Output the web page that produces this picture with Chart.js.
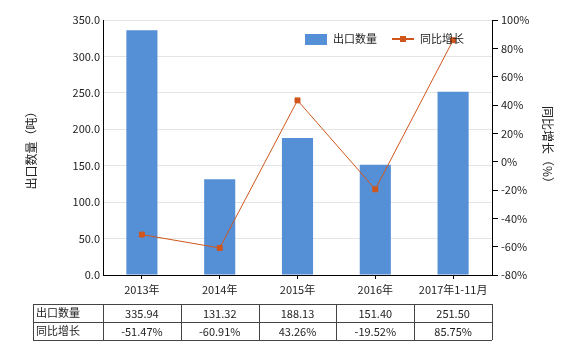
<!DOCTYPE html>
<html>
<head>
<meta charset="utf-8">
<script src="https://cdn.jsdelivr.net/npm/chart.js@4/dist/chart.umd.min.js"></script>
<style>
  html, body { margin: 0; padding: 0; background: #fff; }
  #wrap { width: 580px; height: 350px; position: relative; }
</style>
</head>
<body>
<div id="wrap"><canvas id="chart" width="580" height="350"></canvas></div>
<script>
const categories = ['2013年', '2014年', '2015年', '2016年', '2017年1-11月'];
const exportQty = [335.94, 131.32, 188.13, 151.40, 251.50];
const yoyGrowth = [-51.47, -60.91, 43.26, -19.52, 85.75];
const qtyLabels = ['335.94', '131.32', '188.13', '151.40', '251.50'];
const growthLabels = ['-51.47%', '-60.91%', '43.26%', '-19.52%', '85.75%'];

const FONT = '"Noto Sans CJK SC", "Noto Sans", sans-serif';
const BAR_COLOR = '#5590d6';
const LINE_COLOR = '#d0561c';

// legend + data table drawn under the plot
const extras = {
    id: 'extras',
    afterDraw(chart) {
        const ctx = chart.ctx;
        const area = chart.chartArea;
        const xs = chart.scales.x;
        const barSet = chart.data.datasets.find(d => d.type === 'bar');
        const lineSet = chart.data.datasets.find(d => d.type === 'line');
        ctx.save();
        ctx.font = '11px ' + FONT;
        ctx.fillStyle = '#222';
        ctx.textBaseline = 'middle';

        // legend
        const ly = area.top + 19;
        const lx = area.left + 202;
        ctx.fillStyle = BAR_COLOR;
        ctx.fillRect(lx, ly - 5, 22, 11);
        ctx.fillStyle = '#222';
        ctx.textAlign = 'left';
        ctx.fillText(barSet.label, lx + 28, ly);
        ctx.strokeStyle = LINE_COLOR;
        ctx.lineWidth = 2;
        ctx.beginPath();
        ctx.moveTo(lx + 87, ly);
        ctx.lineTo(lx + 109, ly);
        ctx.stroke();
        ctx.fillStyle = LINE_COLOR;
        ctx.fillRect(lx + 95, ly - 3, 6, 6);
        ctx.fillStyle = '#222';
        ctx.fillText(lineSet.label, lx + 115, ly);

        // table
        const top = 304, rowH = 18;
        const left = 33, right = area.right;
        const step = (area.right - area.left) / categories.length;
        ctx.strokeStyle = '#444';
        ctx.lineWidth = 1;
        ctx.beginPath();
        for (let r = 0; r <= 2; r++) {
            ctx.moveTo(left, top + r * rowH + 0.5);
            ctx.lineTo(right, top + r * rowH + 0.5);
        }
        ctx.moveTo(left + 0.5, top);
        ctx.lineTo(left + 0.5, top + 2 * rowH);
        for (let i = 0; i <= categories.length; i++) {
            const x = Math.round(area.left + i * step) + 0.5;
            ctx.moveTo(x, top);
            ctx.lineTo(x, top + 2 * rowH);
        }
        ctx.stroke();

        ctx.fillStyle = '#222';
        ctx.textAlign = 'left';
        ctx.fillText(barSet.label, left + 3, top + rowH / 2);
        ctx.fillText(lineSet.label, left + 3, top + rowH * 1.5);
        ctx.textAlign = 'center';
        categories.forEach((c, i) => {
            const cx = xs.getPixelForValue(i);
            ctx.fillText(qtyLabels[i], cx, top + rowH / 2 + 1);
            ctx.fillText(growthLabels[i], cx, top + rowH * 1.5 + 1);
        });
        ctx.restore();
    }
};

const ctx = document.getElementById('chart').getContext('2d');
new Chart(ctx, {
    data: {
        labels: categories,
        datasets: [{
            type: 'line',
            label: '同比增长',
            data: yoyGrowth,
            yAxisID: 'y1',
            borderColor: LINE_COLOR,
            backgroundColor: LINE_COLOR,
            borderWidth: 1,
            pointStyle: 'rect',
            pointRadius: 3.5,
            tension: 0,
            order: 0
        }, {
            type: 'bar',
            label: '出口数量',
            data: exportQty,
            yAxisID: 'y',
            backgroundColor: BAR_COLOR,
            barPercentage: 0.4,
            categoryPercentage: 1,
            order: 1
        }]
    },
    options: {
        responsive: false,
        animation: false,
        layout: { padding: { top: 20, left: 0, right: 0, bottom: 0 } },
        plugins: {
            legend: { display: false },
            tooltip: { enabled: false }
        },
        scales: {
            x: {
                grid: { display: true, drawOnChartArea: false, offset: false, tickLength: 4, color: '#000' },
                border: { color: '#000', width: 1 },
                ticks: { color: '#222', font: { size: 11, family: FONT }, maxRotation: 0, padding: 4 },
                afterFit(scale) { scale.height = 75; }
            },
            y: {
                position: 'left',
                min: 0, max: 350,
                ticks: { stepSize: 50, color: '#222', font: { size: 11, family: FONT },
                    callback: v => v.toFixed(1) },
                grid: { color: '#e4e4e4', tickLength: 4, drawTicks: false },
                border: { color: '#000', width: 1 },
                title: { display: true, text: '出口数量（吨）', color: '#222',
                    font: { size: 12, family: FONT }, padding: { top: 24 } },
                afterFit(scale) { scale.width = 103; }
            },
            y1: {
                position: 'right',
                min: -80, max: 100,
                ticks: { stepSize: 20, color: '#222', font: { size: 11, family: FONT },
                    callback: v => v + '%' },
                grid: { drawOnChartArea: false, tickLength: 6, color: '#000' },
                border: { color: '#000', width: 1 },
                title: { display: true, text: '同比增长（%）', color: '#222',
                    font: { size: 12, family: FONT }, padding: { top: 25 } },
                afterFit(scale) { scale.width = 88; }
            }
        }
    },
    plugins: [extras]
});
</script>
</body>
</html>
